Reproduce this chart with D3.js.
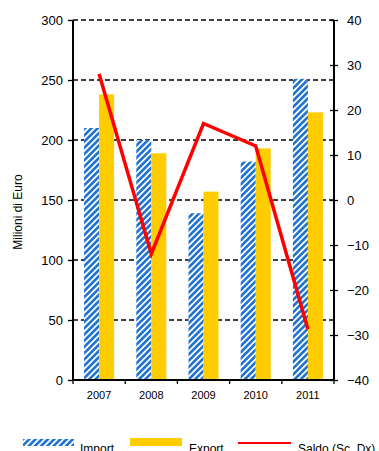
<!DOCTYPE html>
<html>
<head>
<meta charset="utf-8">
<script src="https://cdn.jsdelivr.net/npm/d3@7"></script>
<style>
  html, body { margin: 0; padding: 0; background: #fff; }
  svg { display: block; font-family: "Liberation Sans", Arial, sans-serif; }
</style>
</head>
<body>
<svg id="chart" width="379" height="451"></svg>
<script>
// Interscambio commerciale, milioni di euro
const years = ["2007", "2008", "2009", "2010", "2011"];
const importValues = [210, 200, 139, 182, 251];
const exportValues = [238, 189, 157, 193, 223];
const saldoValues = [28, -12, 17, 12, -28.7];

const leftTicks = [0, 50, 100, 150, 200, 250, 300];
const rightTicks = [-40, -30, -20, -10, 0, 10, 20, 30, 40];

const svg = d3.select("#chart");
const plotLeft = 73, plotRight = 334, plotTop = 20, plotBottom = 380;

const x = d3.scaleBand().domain(years).range([plotLeft, plotRight]).padding(0);
const yL = d3.scaleLinear().domain([0, 300]).range([plotBottom, plotTop]);
const yR = d3.scaleLinear().domain([-40, 40]).range([plotBottom, plotTop]);

// striped fill for the import series
const defs = svg.append("defs");
const pat = defs.append("pattern")
  .attr("id", "stripes")
  .attr("patternUnits", "userSpaceOnUse")
  .attr("width", 4.4).attr("height", 4.4)
  .attr("patternTransform", "rotate(45)");
pat.append("rect").attr("width", 4.4).attr("height", 4.4).attr("fill", "#ffffff");
pat.append("rect").attr("width", 2.6).attr("height", 4.4).attr("fill", "#1e72d4");

// dashed gridlines
svg.append("g").selectAll("line")
  .data(leftTicks.filter(d => d > 0))
  .join("line")
  .attr("x1", plotLeft).attr("x2", plotRight)
  .attr("y1", d => yL(d)).attr("y2", d => yL(d))
  .attr("stroke", "#000").attr("stroke-width", 1.3)
  .attr("stroke-dasharray", "5,3");

const barW = 15;
const bars = svg.append("g");
bars.selectAll("rect.imp")
  .data(years)
  .join("rect")
  .attr("class", "imp")
  .attr("x", d => x(d) + x.bandwidth() / 2 - barW)
  .attr("width", barW)
  .attr("y", (d, i) => yL(importValues[i]))
  .attr("height", (d, i) => yL(0) - yL(importValues[i]))
  .attr("fill", "url(#stripes)");
bars.selectAll("rect.exp")
  .data(years)
  .join("rect")
  .attr("class", "exp")
  .attr("x", d => x(d) + x.bandwidth() / 2)
  .attr("width", barW)
  .attr("y", (d, i) => yL(exportValues[i]))
  .attr("height", (d, i) => yL(0) - yL(exportValues[i]))
  .attr("fill", "#ffcc00");

// saldo line on the right-hand scale
const line = d3.line()
  .x((d, i) => x(years[i]) + x.bandwidth() / 2)
  .y(d => yR(d));
svg.append("path")
  .datum(saldoValues)
  .attr("d", line)
  .attr("fill", "none")
  .attr("stroke", "#ff0000")
  .attr("stroke-width", 3.5)
  .attr("stroke-linejoin", "miter");

// left axis
const axL = svg.append("g").attr("transform", `translate(${plotLeft},0)`)
  .call(d3.axisLeft(yL).tickValues(leftTicks).tickSize(5).tickPadding(5));
// right axis
const axR = svg.append("g").attr("transform", `translate(${plotRight},0)`)
  .call(d3.axisRight(yR).tickValues(rightTicks).tickSize(4).tickPadding(9));
axR.selectAll(".tick line").attr("x1", -4);
// bottom axis with ticks between categories
const axB = svg.append("g").attr("transform", `translate(0,${plotBottom})`)
  .call(d3.axisBottom(x).tickSize(0).tickPadding(11));
axB.selectAll(".tick text").attr("dy", "0.71em");
axB.append("g").selectAll("line")
  .data(d3.range(years.length + 1))
  .join("line")
  .attr("x1", i => plotLeft + i * x.bandwidth())
  .attr("x2", i => plotLeft + i * x.bandwidth())
  .attr("y1", 0).attr("y2", 4)
  .attr("stroke", "#000").attr("stroke-width", 1.3);

[axL, axR, axB].forEach(a => {
  a.select(".domain").attr("stroke", "#000").attr("stroke-width", 2);
  a.selectAll(".tick line").attr("stroke", "#000").attr("stroke-width", 1.3);
  a.selectAll("text").attr("fill", "#000").attr("font-family", "Liberation Sans, Arial, sans-serif");
});
axL.selectAll("text").attr("font-size", 13);
axR.selectAll("text").attr("font-size", 13);
axB.selectAll("text").attr("font-size", 11);
axL.select(".domain").attr("d", `M0,${plotBottom}V${plotTop}`);
axR.select(".domain").attr("d", `M0,${plotBottom}V${plotTop}`);
axB.select(".domain").attr("d", `M${plotLeft},0H${plotRight}`);

// y axis title
svg.append("text")
  .attr("transform", "translate(22,212) rotate(-90)")
  .attr("text-anchor", "middle")
  .attr("font-size", 12)
  .attr("fill", "#000")
  .text("Milioni di Euro");

// legend along the bottom edge
const lg = svg.append("g");
lg.append("rect").attr("x", 23).attr("y", 439).attr("width", 51).attr("height", 7).attr("fill", "url(#stripes)");
lg.append("text").attr("x", 80).attr("y", 453).attr("font-size", 12).text("Import");
lg.append("rect").attr("x", 130).attr("y", 438).attr("width", 52).attr("height", 8).attr("fill", "#ffcc00");
lg.append("text").attr("x", 189).attr("y", 453).attr("font-size", 12).text("Export");
lg.append("line").attr("x1", 238).attr("x2", 291).attr("y1", 443).attr("y2", 443)
  .attr("stroke", "#ff0000").attr("stroke-width", 2);
lg.append("text").attr("x", 298).attr("y", 453).attr("font-size", 12).text("Saldo (Sc. Dx)");
</script>
</body>
</html>
